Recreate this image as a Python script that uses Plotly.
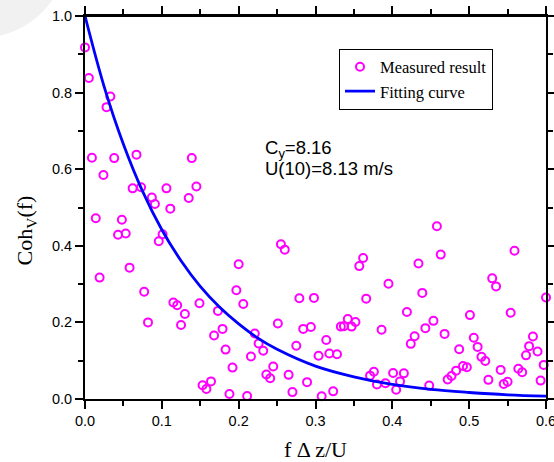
import plotly.graph_objects as go

# Measured coherence points (f*dz/U, Coh_V)
meas_x = [0.000, 0.005, 0.033, 0.028, 0.009, 0.038, 0.067, 0.139, 0.024, 0.062,
          0.073, 0.106, 0.145, 0.087, 0.091, 0.135, 0.111, 0.014, 0.048, 0.043,
          0.053, 0.096, 0.101, 0.019, 0.058, 0.077, 0.082, 0.115, 0.120, 0.130,
          0.125, 0.149, 0.173, 0.179, 0.168, 0.183, 0.192, 0.153, 0.158, 0.164,
          0.188, 0.200, 0.197, 0.206, 0.211, 0.221, 0.226, 0.216, 0.232, 0.245,
          0.236, 0.241, 0.251, 0.255, 0.260, 0.279, 0.298, 0.284, 0.294, 0.275,
          0.314, 0.304, 0.318, 0.328, 0.265, 0.289, 0.270, 0.308, 0.323, 0.333,
          0.337, 0.342, 0.347, 0.352, 0.357, 0.362, 0.395, 0.366, 0.386, 0.376,
          0.371, 0.380, 0.391, 0.401, 0.405, 0.410, 0.415, 0.419, 0.424, 0.429,
          0.434, 0.439, 0.443, 0.448, 0.4535, 0.458, 0.463, 0.468, 0.472, 0.477,
          0.483, 0.487, 0.492, 0.497, 0.501, 0.506, 0.511, 0.516, 0.521, 0.525,
          0.530, 0.535, 0.541, 0.545, 0.550, 0.554, 0.559, 0.564, 0.569, 0.574,
          0.578, 0.583, 0.589, 0.593, 0.597, 0.600]
meas_y = [0.918, 0.838, 0.790, 0.762, 0.630, 0.629, 0.638, 0.629, 0.585, 0.550,
          0.553, 0.550, 0.555, 0.526, 0.509, 0.525, 0.497, 0.472, 0.468, 0.429,
          0.432, 0.412, 0.430, 0.317, 0.343, 0.280, 0.200, 0.252, 0.245, 0.222,
          0.193, 0.250, 0.230, 0.183, 0.166, 0.129, 0.082, 0.036, 0.026, 0.046,
          0.013, 0.352, 0.284, 0.248, 0.008, 0.171, 0.145, 0.111, 0.126, 0.085,
          0.064, 0.054, 0.197, 0.404, 0.390, 0.263, 0.264, 0.183, 0.188, 0.139,
          0.154, 0.113, 0.119, 0.117, 0.063, 0.044, 0.018, 0.007, 0.020, 0.189,
          0.190, 0.209, 0.189, 0.201, 0.347, 0.368, 0.301, 0.262, 0.181, 0.071,
          0.061, 0.038, 0.041, 0.068, 0.024, 0.046, 0.067, 0.227, 0.144, 0.164,
          0.354, 0.277, 0.185, 0.035, 0.204, 0.451, 0.377, 0.170, 0.051, 0.060,
          0.074, 0.130, 0.086, 0.083, 0.219, 0.160, 0.136, 0.110, 0.099, 0.050,
          0.315, 0.294, 0.076, 0.039, 0.045, 0.225, 0.387, 0.079, 0.070, 0.114,
          0.138, 0.163, 0.124, 0.048, 0.089, 0.265]

# Fitting curve values
fit_x = [0.0, 0.025, 0.05, 0.075, 0.1, 0.125, 0.15, 0.175, 0.2, 0.225, 0.25,
         0.3, 0.35, 0.4, 0.45, 0.5, 0.55, 0.6]
fit_y = [1.0, 0.815, 0.665, 0.542, 0.442, 0.361, 0.294, 0.240, 0.196, 0.159,
         0.130, 0.086, 0.058, 0.038, 0.025, 0.017, 0.011, 0.0075]

x_range = [0, 0.6]
y_range = [0, 1.0]

serif = "Liberation Serif, Times New Roman, serif"
sans = "Liberation Sans, Arial, sans-serif"

fig = go.Figure()
fig.add_trace(go.Scatter(
    x=meas_x, y=meas_y, mode="markers", name="Measured result",
    marker=dict(symbol="circle-open", size=8, color="#FF00FF",
                line=dict(width=2, color="#FF00FF")),
    cliponaxis=False))
fig.add_trace(go.Scatter(
    x=fit_x, y=fit_y, mode="lines", name="Fitting curve",
    line=dict(color="#0000FF", width=2.8, shape="spline", smoothing=1.0)))

axis_common = dict(showgrid=False, zeroline=False, showline=True,
                   linewidth=2, linecolor="black", tickcolor="black",
                   tickwidth=1.5, automargin=False, mirror="allticks",
                   ticks="outside", ticklen=8, ticklabeloverflow="allow")

fig.update_layout(
    width=554, height=462,
    margin=dict(l=85, r=8, t=16, b=63),
    plot_bgcolor="white", paper_bgcolor="white",
    font=dict(family=sans, size=14.5, color="black"),
    xaxis=dict(range=x_range, tick0=0, dtick=0.1, tickformat=".1f",
               minor=dict(dtick=0.05, ticks="outside", ticklen=5,
                          tickwidth=1.5, tickcolor="black"),
               title=dict(text="f Δ z/U", font=dict(family=serif, size=22),
                          standoff=17),
               **axis_common),
    yaxis=dict(range=y_range, tick0=0, dtick=0.2, tickformat=".1f",
               minor=dict(dtick=0.1, ticks="outside", ticklen=5,
                          tickwidth=1.5, tickcolor="black"),
               **axis_common),
    legend=dict(x=0.551, y=0.8355, xanchor="left", yanchor="middle",
                bgcolor="white", bordercolor="black", borderwidth=1,
                font=dict(family=serif, size=16.5, color="black"),
                tracegroupgap=0),
    shapes=[
        dict(type="circle", xref="paper", yref="paper", layer="below",
             x0=-0.419, x1=-0.037, y0=0.9426, y1=1.402,
             fillcolor="#f1f1f1", line=dict(width=0)),
        # top frame line of the plot box
        dict(type="line", xref="paper", yref="paper", layer="above",
             x0=0, x1=1, y0=1, y1=1,
             line=dict(color="black", width=2)),
    ],
    annotations=[
        dict(text="Coh<sub>V</sub>(f)", xref="paper", yref="paper",
             x=-0.126, y=0.44, xanchor="center", yanchor="middle",
             textangle=-90, showarrow=False,
             font=dict(family=serif, size=22)),
        dict(text="C<sub>y</sub>=8.16", xref="paper", yref="paper",
             x=0.386, y=0.652, xanchor="left", yanchor="middle",
             showarrow=False, font=dict(family=sans, size=18.5)),
        dict(text="U(10)=8.13 m/s", xref="paper", yref="paper",
             x=0.386, y=0.602, xanchor="left", yanchor="middle",
             showarrow=False, font=dict(family=sans, size=18.5)),
    ],
)

fig.write_html("out.html",
               config={"displayModeBar": False},
               post_script="document.body.style.margin='0';")
